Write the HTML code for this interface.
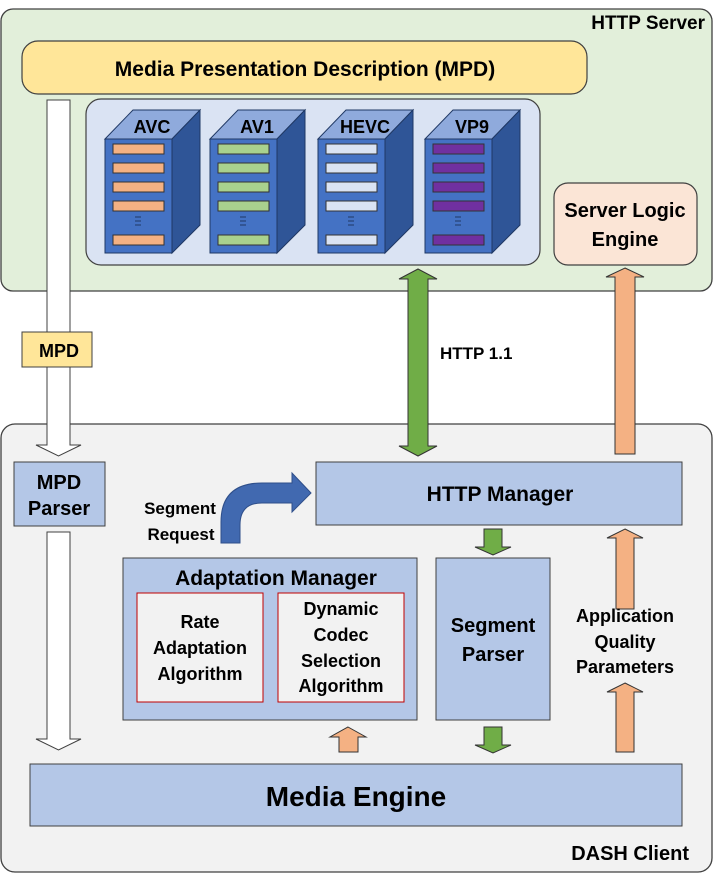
<!DOCTYPE html>
<html><head><meta charset="utf-8"><style>
html,body{margin:0;padding:0;background:#fff;}
svg{display:block;}
text{font-family:"Liberation Sans",sans-serif;font-weight:bold;fill:#000;}
</style></head><body>
<svg width="717" height="879" viewBox="0 0 717 879" xmlns="http://www.w3.org/2000/svg">
<rect x="1" y="9" width="711" height="282" rx="12" fill="#e2efda" stroke="#404040" stroke-width="1.3"/>
<text x="705" y="29" font-size="19" text-anchor="end">HTTP Server</text>
<rect x="22" y="41" width="565" height="53" rx="16" fill="#ffe699" stroke="#404040" stroke-width="1.2"/>
<text x="305" y="76" font-size="21" text-anchor="middle">Media Presentation Description (MPD)</text>
<rect x="86" y="99" width="454" height="166" rx="15" fill="#dae3f3" stroke="#404040" stroke-width="1.2"/>
<g stroke="#1f3864" stroke-width="1">
<g>
<polygon points="105,139 133,110 200,110 172,139" fill="#8faadc"/>
<polygon points="172,139 200,110 200,225 172,253" fill="#2f5597"/>
<rect x="105" y="139" width="67" height="114" fill="#4472c4"/>
</g>
<g transform="translate(105,0)">
<polygon points="105,139 133,110 200,110 172,139" fill="#8faadc"/>
<polygon points="172,139 200,110 200,225 172,253" fill="#2f5597"/>
<rect x="105" y="139" width="67" height="114" fill="#4472c4"/>
</g>
<g transform="translate(213,0)">
<polygon points="105,139 133,110 200,110 172,139" fill="#8faadc"/>
<polygon points="172,139 200,110 200,225 172,253" fill="#2f5597"/>
<rect x="105" y="139" width="67" height="114" fill="#4472c4"/>
</g>
<g transform="translate(320,0)">
<polygon points="105,139 133,110 200,110 172,139" fill="#8faadc"/>
<polygon points="172,139 200,110 200,225 172,253" fill="#2f5597"/>
<rect x="105" y="139" width="67" height="114" fill="#4472c4"/>
</g>
</g>
<g stroke="#333" stroke-width="1">
<g fill="#f4b183"><rect x="113" y="144" width="51" height="10"/><rect x="113" y="163" width="51" height="10"/><rect x="113" y="182" width="51" height="10"/><rect x="113" y="201" width="51" height="10"/><rect x="113" y="235" width="51" height="10"/></g>
<g fill="#a9d18e"><rect x="218" y="144" width="51" height="10"/><rect x="218" y="163" width="51" height="10"/><rect x="218" y="182" width="51" height="10"/><rect x="218" y="201" width="51" height="10"/><rect x="218" y="235" width="51" height="10"/></g>
<g fill="#dae3f3"><rect x="326" y="144" width="51" height="10"/><rect x="326" y="163" width="51" height="10"/><rect x="326" y="182" width="51" height="10"/><rect x="326" y="201" width="51" height="10"/><rect x="326" y="235" width="51" height="10"/></g>
<g fill="#7030a0"><rect x="433" y="144" width="51" height="10"/><rect x="433" y="163" width="51" height="10"/><rect x="433" y="182" width="51" height="10"/><rect x="433" y="201" width="51" height="10"/><rect x="433" y="235" width="51" height="10"/></g>
</g>
<g stroke="#1f3864" stroke-width="1">
<path d="M135,217h6M135,221h6M135,225h6"/>
<path d="M240,217h6M240,221h6M240,225h6"/>
<path d="M348,217h6M348,221h6M348,225h6"/>
<path d="M455,217h6M455,221h6M455,225h6"/>
</g>
<g font-size="18" text-anchor="middle">
<text x="152" y="133">AVC</text><text x="257" y="133">AV1</text><text x="365" y="133">HEVC</text><text x="472" y="133">VP9</text>
</g>
<rect x="554" y="183" width="143" height="82" rx="14" fill="#fbe5d6" stroke="#404040" stroke-width="1.2"/>
<text x="625" y="217" font-size="20" text-anchor="middle">Server Logic</text>
<text x="625" y="246" font-size="20" text-anchor="middle">Engine</text>

<rect x="1" y="424" width="711" height="448" rx="14" fill="#f2f2f2" stroke="#404040" stroke-width="1.3"/>
<text x="689" y="860" font-size="20" text-anchor="end">DASH Client</text>

<polygon points="47,100 70,100 70,445 81,445 58.5,456 36,445 47,445" fill="#fff" stroke="#404040" stroke-width="1"/>
<rect x="22" y="332" width="70" height="35" fill="#ffe699" stroke="#404040" stroke-width="1"/>
<text x="59" y="357" font-size="18" text-anchor="middle">MPD</text>
<rect x="14" y="462" width="91" height="64" fill="#b4c7e7" stroke="#404040" stroke-width="1"/>
<text x="59" y="489" font-size="20" text-anchor="middle">MPD</text>
<text x="59" y="515" font-size="20" text-anchor="middle">Parser</text>
<polygon points="47,532 70,532 70,739 81,739 58.5,750 36,739 47,739" fill="#fff" stroke="#404040" stroke-width="1"/>

<polygon points="418,269 437,279 428,279 428,446 437,446 418,456 399,446 408,446 408,279 399,279" fill="#70ad47" stroke="#333" stroke-width="1"/>
<text x="440" y="359" font-size="17">HTTP 1.1</text>
<polygon points="625,268 644,277 635,277 635,454 615,454 615,277 606,277" fill="#f4b183" stroke="#333" stroke-width="1"/>

<text x="180" y="514" font-size="17" text-anchor="middle">Segment</text>
<text x="181" y="540" font-size="17" text-anchor="middle">Request</text>
<path d="M221,543 L221,522 Q221,483 262,483 L292,483 L292,473 L311,493 L292,512 L292,503 L262,503 Q240,503 240,525 L240,543 Z" fill="#4169b0" stroke="#2f4f8a" stroke-width="1"/>

<rect x="316" y="462" width="366" height="63" fill="#b4c7e7" stroke="#404040" stroke-width="1"/>
<text x="500" y="501" font-size="21" text-anchor="middle">HTTP Manager</text>

<rect x="123" y="558" width="294" height="162" fill="#b4c7e7" stroke="#404040" stroke-width="1"/>
<text x="276" y="585" font-size="21" text-anchor="middle">Adaptation Manager</text>
<rect x="137" y="593" width="126" height="109" fill="#f2f2f2" stroke="#c00000" stroke-width="1"/>
<rect x="278" y="593" width="126" height="109" fill="#f2f2f2" stroke="#c00000" stroke-width="1"/>
<g font-size="18" text-anchor="middle">
<text x="200" y="628">Rate</text><text x="200" y="654">Adaptation</text><text x="200" y="680">Algorithm</text>
<text x="341" y="615">Dynamic</text><text x="341" y="641">Codec</text><text x="341" y="667">Selection</text><text x="341" y="692">Algorithm</text>
</g>
<rect x="436" y="558" width="114" height="162" fill="#b4c7e7" stroke="#404040" stroke-width="1"/>
<text x="493" y="632" font-size="20" text-anchor="middle">Segment</text>
<text x="493" y="661" font-size="20" text-anchor="middle">Parser</text>

<polygon points="484,529 502,529 502,547 511,547 493,555 475,547 484,547" fill="#70ad47" stroke="#333" stroke-width="1"/>
<polygon points="484,727 502,727 502,745 511,745 493,753 475,745 484,745" fill="#70ad47" stroke="#333" stroke-width="1"/>
<polygon points="348,727 366,737 358,737 358,752 339,752 339,737 330,737" fill="#f4b183" stroke="#333" stroke-width="1"/>
<polygon points="625,529 643,538 634,538 634,609 616,609 616,538 607,538" fill="#f4b183" stroke="#333" stroke-width="1"/>
<polygon points="625,683 643,692 634,692 634,752 616,752 616,692 607,692" fill="#f4b183" stroke="#333" stroke-width="1"/>
<g font-size="18" text-anchor="middle">
<text x="625" y="622">Application</text><text x="625" y="648">Quality</text><text x="625" y="673">Parameters</text>
</g>

<rect x="30" y="764" width="652" height="62" fill="#b4c7e7" stroke="#404040" stroke-width="1"/>
<text x="356" y="806" font-size="28" text-anchor="middle">Media Engine</text>
</svg>
</body></html>
